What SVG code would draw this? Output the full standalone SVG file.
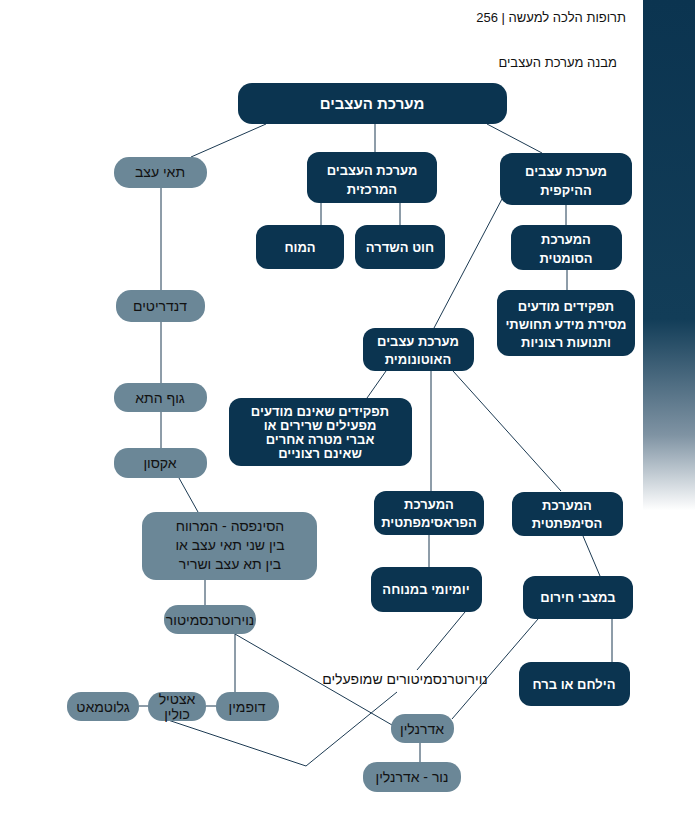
<svg xmlns="http://www.w3.org/2000/svg" width="695" height="832" viewBox="0 0 695 832">
<defs>
<linearGradient id="bar" x1="0" y1="0" x2="0" y2="1">
<stop offset="0" stop-color="#0b3450"/>
<stop offset="0.55" stop-color="#123d58"/>
<stop offset="0.75" stop-color="#7f93a3"/>
<stop offset="0.88" stop-color="#ffffff"/>
</linearGradient>
<style>
text{font-family:"Liberation Sans","DejaVu Sans",sans-serif;text-anchor:middle}
.d rect{fill:#0b3450}
.d text{fill:#fff;font-weight:bold;font-size:13px}
.g rect{fill:#6b8797}
.g text{fill:#111;font-size:14px}
.c line,.c polyline{stroke:#1c3a52;stroke-width:1;fill:none}
</style>
</defs>
<rect width="695" height="832" fill="#fff"/>
<rect x="643" y="0" width="52" height="580" fill="url(#bar)"/>
<text x="626" y="22" text-anchor="end" style="text-anchor:end;font-size:13px" fill="#111">256 | תרופות הלכה למעשה</text>
<text x="617" y="67" style="text-anchor:end;font-size:13px" fill="#111">מבנה מערכת העצבים</text>

<g class="c" id="connectors">
<line x1="266" y1="124" x2="191" y2="157"/>
<line x1="375" y1="124" x2="375" y2="152"/>
<line x1="487" y1="124" x2="542" y2="153"/>
<line x1="321" y1="203" x2="321" y2="225"/>
<line x1="400" y1="203" x2="400" y2="225"/>
<line x1="566" y1="205" x2="566" y2="225"/>
<line x1="567" y1="270" x2="567" y2="290"/>
<line x1="502" y1="199" x2="434" y2="328"/>
<line x1="161" y1="188" x2="161" y2="290"/>
<line x1="161" y1="322" x2="161" y2="383"/>
<line x1="161" y1="412" x2="161" y2="448"/>
<line x1="179" y1="478" x2="198" y2="512"/>
<line x1="386" y1="371" x2="367" y2="398"/>
<line x1="431" y1="371" x2="431" y2="491"/>
<line x1="453" y1="371" x2="561" y2="491"/>
<line x1="429" y1="535" x2="429" y2="567"/>
<line x1="583" y1="536" x2="600" y2="576"/>
<line x1="612" y1="619" x2="612" y2="662"/>
<line x1="538" y1="619" x2="452" y2="719"/>
<line x1="205" y1="580" x2="205" y2="605"/>
<line x1="235" y1="634" x2="235" y2="692"/>
<line x1="235" y1="634" x2="392" y2="725"/>
<line x1="139" y1="706" x2="148" y2="706"/>
<line x1="206" y1="706" x2="216" y2="706"/>
<line x1="420" y1="743" x2="420" y2="762"/>
<line x1="465" y1="612" x2="417" y2="670"/>
<polyline points="397,692 306,766 168,720"/>
</g>
<text x="405" y="684" style="font-size:14px" fill="#111">נוירוטרנסמיטורים שמופעלים</text>

<g class="d" id="n-title"><rect x="238" y="83" width="269" height="41" rx="14"/><text x="372" y="109" style="font-size:15px">מערכת העצבים</text></g>
<g class="d" id="n-central"><rect x="307" y="152" width="130" height="51" rx="12"/><text x="372" y="175">מערכת העצבים<tspan x="372" dy="19">המרכזית</tspan></text></g>
<g class="d" id="n-periph"><rect x="500" y="153" width="132" height="52" rx="12"/><text x="566" y="176">מערכת עצבים<tspan x="566" dy="19">ההיקפית</tspan></text></g>
<g class="d" id="n-brain"><rect x="256" y="225" width="88" height="44" rx="12"/><text x="300" y="252">המוח</text></g>
<g class="d" id="n-spine"><rect x="355" y="225" width="90" height="44" rx="12"/><text x="400" y="252">חוט השדרה</text></g>
<g class="d" id="n-somatic"><rect x="511" y="225" width="111" height="45" rx="12"/><text x="566" y="244">המערכת<tspan x="566" dy="19">הסומטית</tspan></text></g>
<g class="d" id="n-conscious"><rect x="497" y="290" width="138" height="66" rx="12"/><text x="566" y="311">תפקידים מודעים<tspan x="566" dy="18">מסירת מידע תחושתי</tspan><tspan x="566" dy="18">ותנועות רצוניות</tspan></text></g>
<g class="d" id="n-auto"><rect x="363" y="328" width="111" height="43" rx="12"/><text x="418" y="346">מערכת עצבים<tspan x="418" dy="18">האוטונומית</tspan></text></g>
<g class="d" id="n-uncon"><rect x="229" y="398" width="183" height="68" rx="12"/><text x="320" y="416">תפקידים שאינם מודעים<tspan x="320" dy="14">מפעילים שרירים או</tspan><tspan x="320" dy="14">אברי מטרה אחרים</tspan><tspan x="320" dy="14">שאינם רצוניים</tspan></text></g>
<g class="d" id="n-para"><rect x="374" y="491" width="110" height="44" rx="12"/><text x="429" y="509">המערכת<tspan x="429" dy="18">הפראסימפתטית</tspan></text></g>
<g class="d" id="n-symp"><rect x="512" y="492" width="111" height="44" rx="12"/><text x="567" y="510">המערכת<tspan x="567" dy="18">הסימפתטית</tspan></text></g>
<g class="d" id="n-daily"><rect x="371" y="567" width="111" height="45" rx="12"/><text x="426" y="594">יומיומי במנוחה</text></g>
<g class="d" id="n-emerg"><rect x="523" y="576" width="110" height="43" rx="12"/><text x="578" y="602">במצבי חירום</text></g>
<g class="d" id="n-fight"><rect x="519" y="662" width="111" height="44" rx="12"/><text x="574" y="689">הילחם או ברח</text></g>

<g class="g" id="n-cells"><rect x="114" y="157" width="93" height="31" rx="15"/><text x="160" y="177">תאי עצב</text></g>
<g class="g" id="n-dend"><rect x="116" y="290" width="89" height="32" rx="15"/><text x="160" y="311">דנדריטים</text></g>
<g class="g" id="n-body"><rect x="114" y="383" width="93" height="29" rx="14"/><text x="160" y="403">גוף התא</text></g>
<g class="g" id="n-axon"><rect x="114" y="448" width="93" height="30" rx="14"/><text x="160" y="468">אקסון</text></g>
<g class="g" id="n-syn"><rect x="142" y="512" width="175" height="68" rx="14"/><text x="230" y="531">הסינפסה - המרווח<tspan x="230" dy="19">בין שני תאי עצב או</tspan><tspan x="230" dy="19">בין תא עצב ושריר</tspan></text></g>
<g class="g" id="n-nt"><rect x="164" y="605" width="92" height="29" rx="14"/><text x="210" y="625">נוירוטרנסמיטור</text></g>
<g class="g" id="n-glu"><rect x="67" y="692" width="72" height="29" rx="14"/><text x="103" y="712">גלוטמאט</text></g>
<g class="g" id="n-ach"><rect x="148" y="692" width="58" height="29" rx="14"/><text x="177" y="704">אצטיל<tspan x="177" dy="15">כולין</tspan></text></g>
<g class="g" id="n-dop"><rect x="216" y="692" width="63" height="29" rx="14"/><text x="247" y="712">דופמין</text></g>
<g class="g" id="n-adr"><rect x="391" y="714" width="63" height="29" rx="14"/><text x="422" y="734">אדרנלין</text></g>
<g class="g" id="n-nor"><rect x="363" y="762" width="98" height="30" rx="14"/><text x="412" y="782">נור - אדרנלין</text></g>
</svg>
